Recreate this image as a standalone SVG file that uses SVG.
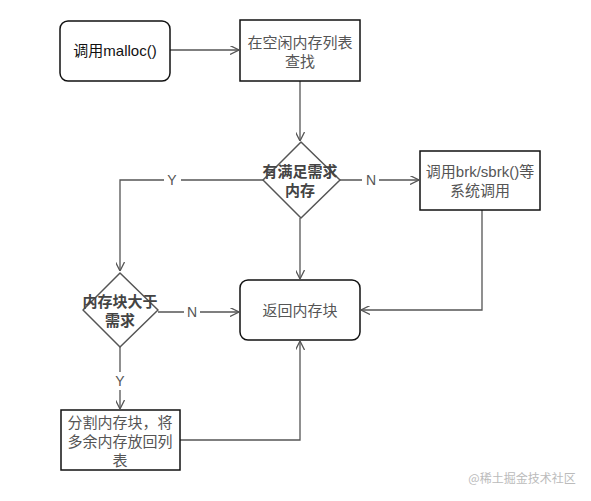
<svg xmlns="http://www.w3.org/2000/svg" width="591" height="501" viewBox="0 0 591 501">
<style>
.n{fill:#fff;stroke:#111;stroke-width:1.5}
.t{font-family:"Liberation Sans","Noto Sans CJK SC",sans-serif;font-size:15px;fill:#555;text-anchor:middle}
.b{font-weight:bold;fill:#444}
.c{fill:none;stroke:#555;stroke-width:1.3}
.l{font-family:"Liberation Sans","Noto Sans CJK SC",sans-serif;font-size:14px;fill:#555;text-anchor:middle}
</style>
<defs>
<marker id="a" viewBox="0 0 10 10" refX="10" refY="5" markerWidth="9" markerHeight="9" orient="auto" markerUnits="userSpaceOnUse">
<path d="M0,0 L10,5 L0,10" fill="none" stroke="#555" stroke-width="1.4"/>
</marker>
</defs>
<rect width="591" height="501" fill="#fff"/>
<g id="connectors">
<path class="c" d="M170,50 H239" marker-end="url(#a)"/>
<path class="c" d="M300,81 V141" marker-end="url(#a)"/>
<path class="c" d="M340,180 H362 M379,180 H419" marker-end="url(#a)"/>
<path class="c" d="M263,180 H181 M164,180 H120 V271" marker-end="url(#a)"/>
<path class="c" d="M300,218 V279" marker-end="url(#a)"/>
<path class="c" d="M482,210 V310 H361" marker-end="url(#a)"/>
<path class="c" d="M158,312 H184 M200,312 H239" marker-end="url(#a)"/>
<path class="c" d="M120,347 V372 M120,390 V409" marker-end="url(#a)"/>
<path class="c" d="M180,440 H300 V341" marker-end="url(#a)"/>
<text class="l" x="371" y="185">N</text>
<text class="l" x="172" y="185">Y</text>
<text class="l" x="192" y="317">N</text>
<text class="l" x="120" y="386">Y</text>
</g>
<g id="malloc">
<rect class="n" x="60" y="21" width="110" height="60" rx="8"/>
<text class="t" x="115" y="56" style="fill:#111">调用malloc()</text>
</g>
<g id="search">
<rect class="n" x="240" y="20" width="120" height="61"/>
<text class="t" x="300" y="48">在空闲内存列表</text>
<text class="t" x="300" y="67">查找</text>
</g>
<g id="decision1">
<path class="n" d="M301,142 L340,180 L301,218 L263,180 Z" stroke-linejoin="round" style="stroke:#555"/>
<text class="t b" x="300" y="177">有满足需求</text>
<text class="t b" x="300" y="196">内存</text>
</g>
<g id="brk">
<rect class="n" x="420" y="151" width="120" height="59"/>
<text class="t" x="480" y="177">调用brk/sbrk()等</text>
<text class="t" x="480" y="196">系统调用</text>
</g>
<g id="decision2">
<path class="n" d="M120,273 L158,310 L120,347 L83,310 Z" stroke-linejoin="round" style="stroke:#555"/>
<text class="t b" x="120" y="307">内存块大于</text>
<text class="t b" x="120" y="326">需求</text>
</g>
<g id="return">
<rect class="n" x="240" y="280" width="120" height="60" rx="8"/>
<text class="t" x="300" y="316">返回内存块</text>
</g>
<g id="split">
<rect class="n" x="61" y="410" width="119" height="60"/>
<text class="t" x="120" y="428">分割内存块，将</text>
<text class="t" x="120" y="447">多余内存放回列</text>
<text class="t" x="120" y="466">表</text>
</g>
<text x="522" y="483" style="font-family:'Noto Sans CJK SC',sans-serif;font-size:12px;fill:#bbb;text-anchor:middle">@稀土掘金技术社区</text>
</svg>
